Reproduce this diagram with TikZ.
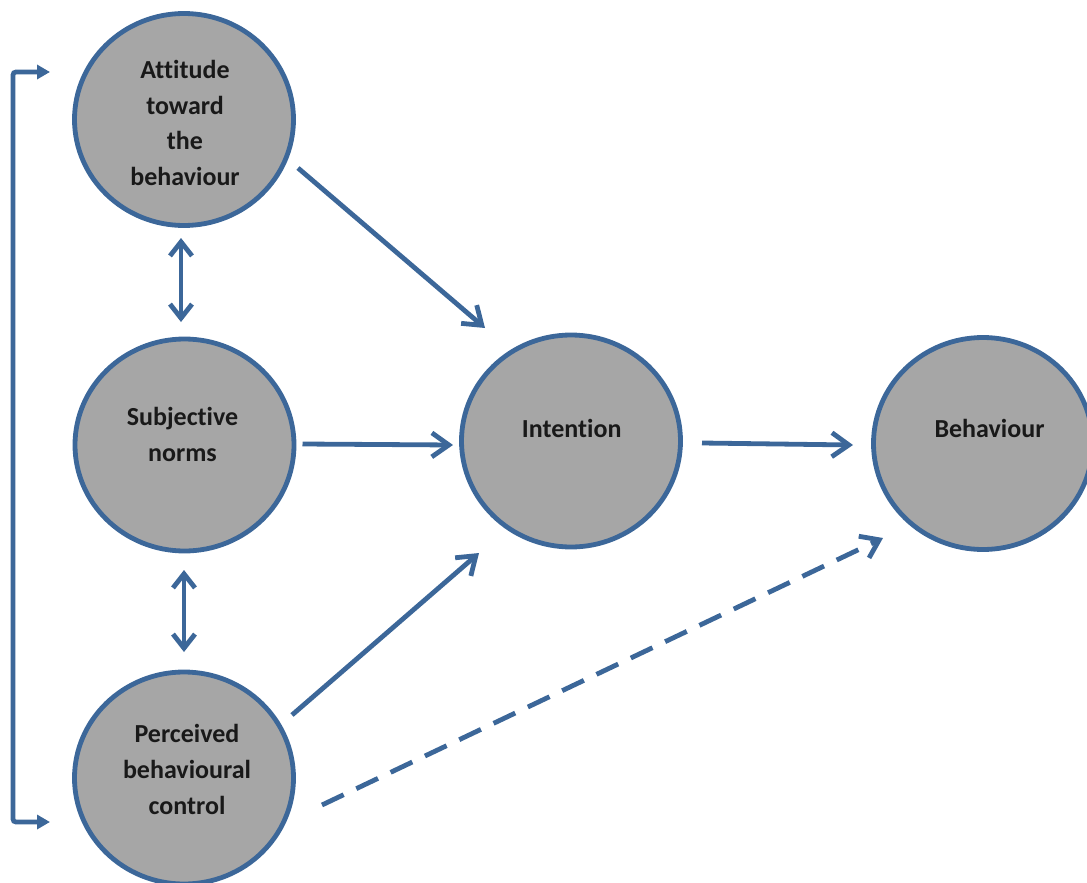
\documentclass[tikz,border=0pt]{standalone}
\usepackage{fontspec}
\setmainfont[Ligatures=NoCommon]{Carlito}
\usetikzlibrary{arrows.meta,calc,shapes.geometric}
\definecolor{edge}{HTML}{3C6799}
\definecolor{disc}{HTML}{A6A6A6}
\tikzset{
  bub/.style={ellipse, draw=edge, fill=disc, line width=4.8pt, minimum width=219pt, minimum height=212pt, inner sep=0pt},
  lbl/.style={anchor=base, align=center, inner sep=0pt, font=\fontsize{26}{35.8}\selectfont\bfseries, text=black!90},
  arr/.style={draw=edge, line width=4.8pt, -{Straight Barb[length=17pt,width=24pt]}},
  dbl/.style={draw=edge, line width=4.8pt, {Straight Barb[length=14pt,width=22pt]}-{Straight Barb[length=14pt,width=22pt]}},
  brk/.style={draw=edge, line width=4.8pt, rounded corners=3pt, {Triangle[length=13pt,width=14pt]}-{Triangle[length=13pt,width=14pt]}}
}
\begin{document}
\begin{tikzpicture}[x=1pt,y=-1pt]
\useasboundingbox (0,0) rectangle (1087,883);
\node[bub] (att) at (184,119.5) {};
\node[bub] (sub) at (184.5,445) {};
\node[bub] (pbc) at (184,778) {};
\node[bub] (int) at (571,441) {};
\node[bub] (beh) at (983,443.5) {};
\node[lbl] (attT) at ($(att)+(1,66.2)$) {Attitude\\toward\\the\\behaviour};
\node[lbl] (subT) at ($(sub)+(-2,16.7)$) {Subjective\\norms};
\node[lbl] (pbcT) at ($(pbc)+(3,36)$) {Perceived\\behavioural\\control};
\node[lbl] (intT) at ($(int)+(0.7,-4)$) {Intention};
\node[lbl] (behT) at ($(beh)+(6.5,-6.5)$) {Behaviour};
\draw[arr] ($(att)+(114,48.5)$) -- ($(int)+(-86,-113)$);
\draw[arr] ($(sub)+(118,-1)$) -- ($(int)+(-118,4)$);
\draw[arr] ($(int)+(131,2)$) -- ($(beh)+(-130,1.5)$);
\draw[arr] ($(pbc)+(108,-63)$) -- ($(int)+(-92,112)$);
\draw[arr, dash pattern=on 24pt off 14pt] ($(pbc)+(138,27)$) -- ($(beh)+(-100,94.5)$);
\draw[dbl] ($(att)+(-3,118.5)$) -- ($(sub)+(-3.5,-123)$);
\draw[dbl] ($(sub)+(-0.5,125)$) -- ($(pbc)+(0,-126)$);
\coordinate (brkx) at (13,0);
\coordinate (brkA) at ($(att)+(-134,-47.5)$);
\coordinate (brkB) at ($(pbc)+(-134,44)$);
\draw[brk] (brkA) -- (brkA -| brkx) -- (brkB -| brkx) -- (brkB);
\end{tikzpicture}
\end{document}
